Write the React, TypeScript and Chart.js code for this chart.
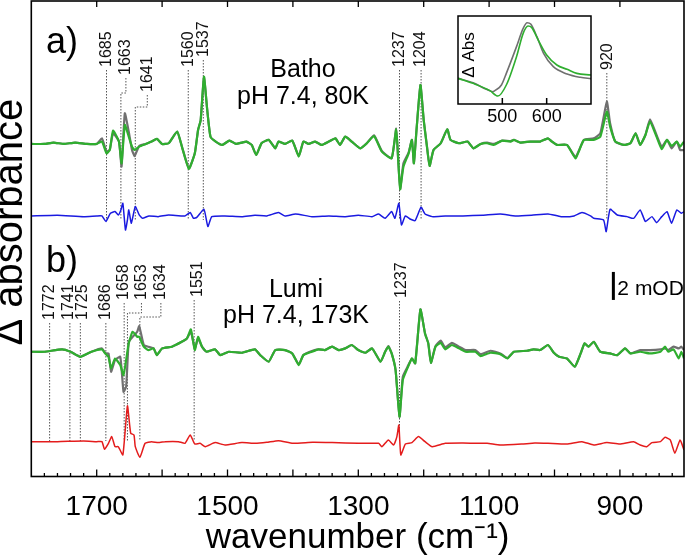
import React, { useEffect, useRef } from 'react';
import { Chart, registerables } from 'chart.js';

Chart.register(...registerables);

const FONT = '"Liberation Sans", Arial, Helvetica, sans-serif';

// ---------- main panel: x axis ----------
const xMin = 802;
const xMax = 1800;
const xTickLabels = [1700, 1500, 1300, 1100, 900];
const xMajorStep = 100;
const xMinorStep = 20;

// ---------- a) Batho, pH 7.4, 80K (mOD, relative to own baseline) ----------
const aWn = [1800, 1780, 1766, 1750, 1733, 1715, 1700, 1692, 1685, 1680, 1675, 1666, 1662, 1657, 1651, 1646, 1642, 1635, 1625, 1616, 1608, 1600, 1590, 1577, 1569, 1559, 1550, 1545, 1541, 1536, 1531, 1526, 1518, 1508, 1497, 1487, 1478, 1471, 1463, 1456, 1448, 1437, 1427, 1422, 1412, 1401, 1391, 1384, 1376, 1366, 1356, 1345, 1335, 1328, 1320, 1310, 1297, 1287, 1276, 1264, 1249, 1242, 1239, 1236, 1231, 1223, 1218, 1215, 1211, 1205, 1200, 1195, 1191, 1185, 1174, 1164, 1159, 1146, 1133, 1124, 1113, 1103, 1093, 1080, 1067, 1062, 1052, 1037, 1022, 1010, 1004, 996, 981, 968, 963, 955, 940, 930, 920, 915, 907, 894, 884, 876, 869, 861, 854, 844, 836, 828, 821, 813, 808, 802];
const aGreen = [0, 0, 0.1, 0, 0.1, 0, 0, 0.17, -0.67, -0.43, 0.95, 0.17, -1.38, 1.36, 0.52, -0.19, -0.43, -0.19, 0, 0.17, 0.36, 0, 0.05, 0.88, -0.31, -1.79, -0.67, 1.0, 1.71, 4.81, 2.43, 0.52, 0.17, -0.07, 0.24, 0, 0.1, 0.17, -0.07, -0.79, 0.05, 0.29, -0.31, 0.17, 0, 0.24, -0.9, 0.17, 0, 0.17, -0.07, 0.17, 0.4, -0.07, 0.52, 0.17, -0.31, 0.05, 0.57, -0.55, -1.02, 1.05, -1.14, -3.24, -1.62, -0.67, 0.29, -1.38, 1.0, 4.21, 1.71, -0.19, -1.57, -0.43, 0.05, 1.05, 0.29, 0.05, 0.17, -0.31, 0, 0.05, -0.07, 0.24, 0.17, 0.29, 0.1, 0.17, 0.17, 0.4, 0.17, -0.07, -0.07, -1.02, -0.55, 0.29, 0.29, 0.52, 2.31, 1.24, 0.17, -0.07, 0.05, 0.76, -0.07, 0.64, 1.6, 0.52, -0.38, 0.29, -0.14, 0.17, -0.19, 0.17];
const aGray = [0, 0, 0.1, 0, 0.1, 0, 0, 0.4, -0.55, -0.4, 0.76, 0.17, -1.62, 2.19, 0.88, -0.43, -0.86, -0.14, 0, 0.17, 0.36, 0, 0.05, 0.88, -0.31, -1.74, -0.67, 1.0, 1.71, 4.76, 2.43, 0.52, 0.17, -0.07, 0.24, 0, 0.1, 0.17, -0.07, -0.79, 0.05, 0.29, -0.31, 0.17, 0, 0.24, -0.86, 0.17, 0, 0.17, -0.07, 0.17, 0.4, -0.07, 0.52, 0.17, -0.31, 0.05, 0.62, -0.5, -1.02, 1.1, -1.14, -3.2, -1.38, -0.6, 0.29, -1.38, 1.0, 4.21, 1.71, -0.19, -1.57, -0.43, 0.05, 1.05, 0.29, 0.05, 0.17, -0.31, 0, 0.1, 0, 0.24, 0.2, 0.29, 0.1, 0.17, 0.17, 0.4, 0.17, -0.07, -0.07, -0.95, -0.5, 0.29, 0.4, 0.76, 3.02, 1.48, 0.17, -0.07, 0.05, 0.76, -0.07, 0.64, 1.76, 0.64, -0.19, 0.29, -0.31, 0.17, -0.43, -0.43];
const aDiffWn = [1800, 1760, 1720, 1700, 1692, 1686, 1679, 1672, 1667, 1663, 1660, 1656, 1653, 1651, 1647, 1641, 1635, 1630, 1620, 1606, 1590, 1565, 1557, 1552, 1547, 1536, 1530, 1524, 1504, 1478, 1458, 1440, 1422, 1412, 1396, 1371, 1345, 1320, 1300, 1279, 1269, 1259, 1249, 1244, 1238, 1234, 1228, 1220, 1213, 1204, 1198, 1187, 1167, 1140, 1110, 1083, 1060, 1035, 1010, 990, 970, 958, 945, 940, 925, 921, 915, 904, 889, 879, 869, 861, 851, 844, 836, 828, 821, 813, 806, 802];
const aDiff = [0, 0.05, -0.05, 0, 0, -0.4, 0.19, 0.31, 0.07, 0.43, 0.9, -1.0, -0.29, 0.43, -0.52, 0.67, 0.07, -0.17, 0, -0.05, 0.07, 0, 0.24, -0.17, -0.1, 0.48, -0.76, -0.05, 0, -0.05, 0.05, 0, 0.24, 0, 0.14, -0.05, 0, -0.05, 0.05, -0.05, 0.14, -0.17, 0.31, -0.17, 0.9, -0.64, 0, -0.24, -0.33, 0.62, 0.14, -0.05, 0, 0, 0.05, 0.14, 0, 0.05, 0.14, -0.05, 0, 0.24, 0, -0.17, -0.29, -1.12, 0.48, 0.07, -0.05, -0.17, 0.43, -0.4, -0.05, -0.48, -0.05, 0.31, -0.52, 0.43, 0.19, 0.31];

// ---------- b) Lumi, pH 7.4, 173K ----------
const bWn = [1800, 1780, 1753, 1740, 1725, 1708, 1692, 1687, 1682, 1678, 1672, 1664, 1659, 1655, 1651, 1645, 1638, 1635, 1628, 1621, 1613, 1608, 1600, 1585, 1570, 1562, 1556, 1550, 1545, 1539, 1532, 1519, 1511, 1498, 1478, 1458, 1450, 1437, 1427, 1412, 1401, 1391, 1384, 1371, 1361, 1351, 1340, 1330, 1320, 1310, 1300, 1289, 1279, 1266, 1259, 1254, 1249, 1243, 1237, 1232, 1225, 1218, 1213, 1205, 1198, 1193, 1189, 1182, 1174, 1167, 1157, 1146, 1136, 1121, 1113, 1098, 1083, 1072, 1062, 1042, 1032, 1022, 1010, 1001, 993, 981, 969, 960, 954, 948, 940, 930, 915, 904, 892, 884, 869, 854, 838, 831, 826, 818, 810, 806, 802];
const bGreen = [0, 0, 0.17, 0, -0.36, 0, 0.17, -0.12, -0.36, -1.19, -0.48, -0.95, -1.67, -0.6, 0.6, 1.43, 1.07, 1.07, 0.36, 0.12, 0.24, -0.24, 0.24, 0.36, 0.71, 0.95, 1.6, 0.12, 1.07, 0.36, 0, 0.17, -0.24, 0, -0.07, 0.17, -0.24, -0.71, 0.12, 0.12, -0.12, -0.95, -0.24, 0, 0.17, 0.12, 0.36, 0.12, 0.24, 0.48, 0.12, -0.07, 0.24, -0.71, 0, 0.36, -0.12, -1.31, -4.64, -2.02, -1.19, -0.48, -0.83, 3.02, 1.31, 0.6, -0.79, 0.36, 0.64, 0.17, 0.48, 0.24, 0, 0, -0.31, -0.07, -0.17, -0.48, 0, 0.07, 0.17, 0.12, 0.48, -0.07, -0.36, -0.48, -1.07, -0.12, 0.6, 0.36, 0.71, 0, -0.12, -0.24, 0.24, -0.12, 0, -0.12, 0, 0.36, 0, 0.17, -0.48, 0, -0.48];
const bGray = [0, 0, 0.17, 0, -0.36, 0, 0.24, -0.1, -0.12, -1.43, -0.6, -0.36, -2.86, -2.5, 0.71, 1.07, 1.43, 1.83, 0.48, 0.36, 0.24, -0.24, 0.24, 0.36, 0.71, 0.95, 1.43, 0.24, 0.95, 0.36, 0, 0.17, -0.24, 0, -0.07, 0.17, -0.24, -0.71, 0.12, 0.12, -0.12, -0.9, -0.24, 0.05, 0.17, 0.12, 0.36, 0.12, 0.24, 0.48, 0.12, -0.07, 0.24, -0.71, 0, 0.4, -0.12, -1.31, -4.64, -1.79, -1.1, -0.48, -0.83, 3.02, 1.31, 0.6, -0.79, 0.4, 0.79, 0.31, 0.64, 0.36, 0.12, 0.12, -0.17, 0.07, -0.12, -0.45, 0, 0.07, 0.17, 0.12, 0.48, -0.07, -0.36, -0.48, -1.07, -0.12, 0.6, 0.36, 0.71, 0, -0.12, -0.24, 0.24, -0.12, 0.12, 0.12, 0.17, 0.24, 0.12, 0.36, 0.24, 0.36, 0.12];
const bDiffWn = [1800, 1760, 1720, 1700, 1692, 1688, 1682, 1677, 1672, 1667, 1660, 1653, 1648, 1643, 1641, 1634, 1626, 1616, 1606, 1595, 1575, 1565, 1557, 1550, 1542, 1534, 1519, 1504, 1478, 1458, 1440, 1422, 1400, 1370, 1340, 1300, 1269, 1264, 1254, 1246, 1241, 1238, 1235, 1228, 1218, 1208, 1198, 1187, 1167, 1140, 1121, 1103, 1083, 1050, 1030, 1010, 981, 958, 940, 920, 900, 879, 869, 859, 851, 838, 831, 823, 816, 808, 802];
const bDiff = [0, 0, 0.05, 0, 0, -0.55, -0.12, 0.36, -0.36, -0.36, -0.95, 2.55, 0.6, 0.48, -0.36, -1.12, -0.12, 0, -0.07, 0, 0, -0.12, 0.48, -0.17, -0.12, -0.36, -0.07, -0.24, -0.07, -0.12, -0.05, 0.07, -0.12, -0.05, -0.07, -0.12, -0.12, -0.36, 0.12, -0.24, 0.36, 1.19, -0.95, -0.17, -0.07, 0.36, 0, -0.36, -0.12, -0.1, -0.12, -0.12, -0.24, -0.17, -0.1, -0.12, -0.17, 0, -0.24, -0.07, -0.17, 0, -0.24, -0.36, -0.07, 0, 0.31, 0.12, -0.83, 0.12, -0.6];

// vertical stacking of the traces (mOD above the axis bottom)
const yMax = 33.96;
const aOffset = 23.75;
const aDiffOffset = 18.61;
const bOffset = 8.91;
const bDiffOffset = 2.49;

// scale bar
const scaleBarValue = 2; // mOD
const scaleBarWn = 910;
const scaleBarBase = 12.61;

// peak labels
const aPeaks = [1685, 1663, 1641, 1560, 1537, 1237, 1204, 920];
const bPeaks = [1772, 1741, 1725, 1686, 1658, 1653, 1634, 1551, 1237];

// ---------- inset: visible spectra ----------
const insetTicks = [500, 600];
const insetGrayWl = [400, 434, 464, 479, 483, 498, 509, 532, 547, 556, 564, 578, 593, 615, 646, 676, 700];
const insetGrayAbs = [0.292, 0.242, 0.167, 0.14, 0.152, 0.216, 0.348, 0.652, 0.86, 0.924, 0.909, 0.765, 0.576, 0.424, 0.341, 0.303, 0.288];
const insetGreenWl = [400, 434, 472, 490, 509, 532, 547, 558, 566, 581, 600, 623, 646, 668, 700];
const insetGreenAbs = [0.292, 0.235, 0.152, 0.091, 0.216, 0.538, 0.803, 0.886, 0.871, 0.727, 0.557, 0.443, 0.394, 0.348, 0.33];

// ---------- styles ----------
const GREEN = '#2fae2f';
const GRAY = '#707070';
const BLUE = '#1a1ae0';
const RED = '#e41c1c';

const aLayout = [
  { dx: 0, b: 67 }, { dx: 5, b: 75, e: 93 }, { dx: 12, b: 92, e: 107 }, { dx: 0, b: 67 },
  { dx: 0, b: 57 }, { dx: 0, b: 67 }, { dx: 0, b: 67 }, { dx: 1, b: 70 },
];
const aLineBottom = 220;
const bLayout = [
  { dx: 0, b: 320 }, { dx: -1, b: 320 }, { dx: 2.5, b: 320 }, { dx: 0, b: 320 }, { dx: -1, b: 300 },
  { dx: 14, b: 300, e: 313 }, { dx: 21, b: 300, e: 317 }, { dx: 3, b: 297 }, { dx: 2, b: 298 },
];
const bLineBottom = 441;

function pts(xs: number[], ys: number[], off: number) {
  return xs.map((x, i) => ({ x, y: ys[i] + off }));
}

function line(label: string, data: any[], color: string, width: number) {
  return {
    label, data, borderColor: color, borderWidth: width, pointRadius: 0,
    fill: false, tension: 0.15, borderJoinStyle: 'round' as const,
  };
}

function drawPeaks(ctx: CanvasRenderingContext2D, x: any, peaks: number[], layout: any[], bottom: number, textOnly: boolean) {
  peaks.forEach((wn, i) => {
    const L = layout[i];
    const px = x.getPixelForValue(wn);
    const lx = px + L.dx;
    if (!textOnly) {
      ctx.beginPath();
      if (L.e !== undefined) {
        ctx.moveTo(lx, L.b + 3);
        ctx.lineTo(lx, L.e);
        ctx.lineTo(px, L.e);
        ctx.lineTo(px, bottom);
      } else {
        ctx.moveTo(px, L.b + 3);
        ctx.lineTo(px, bottom);
      }
      ctx.stroke();
    } else {
      ctx.save();
      ctx.translate(lx, L.b);
      ctx.rotate(-Math.PI / 2);
      ctx.textAlign = 'left';
      ctx.textBaseline = 'middle';
      ctx.fillText(String(wn), 0, 0);
      ctx.restore();
    }
  });
}

const mainPlugin = {
  id: 'mainDecor',
  beforeDatasetsDraw(chart: any) {
    const { ctx, scales: { x } } = chart;
    ctx.save();
    ctx.strokeStyle = '#555';
    ctx.lineWidth = 1;
    ctx.setLineDash([1.5, 1.5]);
    drawPeaks(ctx, x, aPeaks, aLayout, aLineBottom, false);
    drawPeaks(ctx, x, bPeaks, bLayout, bLineBottom, false);
    ctx.restore();
  },
  afterDraw(chart: any) {
    const { ctx, chartArea: ca, scales: { x, y } } = chart;
    ctx.save();
    // frame
    ctx.strokeStyle = '#000';
    ctx.lineWidth = 1.6;
    ctx.strokeRect(ca.left, ca.top, ca.right - ca.left, ca.bottom - ca.top);
    // inward ticks
    ctx.lineWidth = 1.3;
    for (let v = Math.ceil(xMin / xMinorStep) * xMinorStep; v <= xMax; v += xMinorStep) {
      const px = x.getPixelForValue(v);
      if (px <= ca.left + 1 || px >= ca.right - 1) continue;
      const major = v % xMajorStep === 0;
      ctx.beginPath();
      ctx.moveTo(px, ca.bottom);
      ctx.lineTo(px, ca.bottom - (major ? 7 : 3.5));
      if (major) {
        ctx.moveTo(px, ca.top);
        ctx.lineTo(px, ca.top + 6);
      }
      ctx.stroke();
    }
    // peak labels
    ctx.fillStyle = '#111';
    ctx.font = `16px ${FONT}`;
    drawPeaks(ctx, x, aPeaks, aLayout, aLineBottom, true);
    drawPeaks(ctx, x, bPeaks, bLayout, bLineBottom, true);
    // panel texts
    ctx.fillStyle = '#000';
    ctx.textBaseline = 'alphabetic';
    ctx.textAlign = 'left';
    ctx.font = `36px ${FONT}`;
    ctx.fillText('a)', 46, 53);
    ctx.fillText('b)', 46, 272);
    ctx.textAlign = 'center';
    ctx.font = `25px ${FONT}`;
    ctx.fillText('Batho', 303, 77);
    ctx.fillText('pH 7.4, 80K', 303, 104);
    ctx.fillText('Lumi', 296, 297);
    ctx.fillText('pH 7.4, 173K', 296, 323);
    // scale bar
    const bx = x.getPixelForValue(scaleBarWn);
    const y0 = y.getPixelForValue(scaleBarBase);
    const y1 = y.getPixelForValue(scaleBarBase + scaleBarValue);
    ctx.lineWidth = 3;
    ctx.beginPath();
    ctx.moveTo(bx, y0);
    ctx.lineTo(bx, y1);
    ctx.stroke();
    ctx.textAlign = 'left';
    ctx.font = `21px ${FONT}`;
    ctx.fillText(`${scaleBarValue} mOD`, bx + 4, y0 - 5);
    ctx.restore();
  },
};

const insetPlugin = {
  id: 'insetDecor',
  beforeDraw(chart: any) {
    const { ctx, chartArea: ca } = chart;
    ctx.save();
    ctx.fillStyle = '#fff';
    ctx.fillRect(ca.left, ca.top, ca.right - ca.left, ca.bottom - ca.top);
    ctx.restore();
  },
  afterDraw(chart: any) {
    const { ctx, chartArea: ca, scales: { x } } = chart;
    ctx.save();
    ctx.strokeStyle = '#000';
    ctx.lineWidth = 1.5;
    ctx.strokeRect(ca.left, ca.top, ca.right - ca.left, ca.bottom - ca.top);
    insetTicks.forEach((v) => {
      const px = x.getPixelForValue(v);
      ctx.beginPath();
      ctx.moveTo(px, ca.bottom);
      ctx.lineTo(px, ca.bottom - 6);
      ctx.stroke();
    });
    ctx.fillStyle = '#000';
    ctx.font = `17px ${FONT}`;
    ctx.translate(ca.left + 11, ca.top + 39);
    ctx.rotate(-Math.PI / 2);
    ctx.textAlign = 'center';
    ctx.textBaseline = 'middle';
    ctx.fillText('Δ Abs', 0, 0);
    ctx.restore();
  },
};

export default function App() {
  const mainRef = useRef<HTMLCanvasElement>(null);
  const insetRef = useRef<HTMLCanvasElement>(null);

  useEffect(() => {
    document.body.style.margin = '0';
    const main = new Chart(mainRef.current as HTMLCanvasElement, {
      type: 'line',
      data: {
        datasets: [
          line('a) green', pts(aWn, aGreen, aOffset), GREEN, 2.2),
          line('a) gray', pts(aWn, aGray, aOffset), GRAY, 2.2),
          line('a) difference', pts(aDiffWn, aDiff, aDiffOffset), BLUE, 1.5),
          line('b) green', pts(bWn, bGreen, bOffset), GREEN, 2.2),
          line('b) gray', pts(bWn, bGray, bOffset), GRAY, 2.2),
          line('b) difference', pts(bDiffWn, bDiff, bDiffOffset), RED, 1.5),
        ],
      },
      options: {
        responsive: false,
        animation: false,
        devicePixelRatio: 1,
        layout: { padding: { top: 1, right: 2, left: 0, bottom: 0 } },
        plugins: { legend: { display: false }, tooltip: { enabled: false } },
        scales: {
          x: {
            type: 'linear', min: xMin, max: xMax, reverse: true,
            afterBuildTicks: (s: any) => { s.ticks = xTickLabels.map((v) => ({ value: v })); },
            afterFit: (s: any) => { s.height = 81.5; },
            grid: { display: false, drawTicks: false },
            border: { display: false },
            ticks: {
              font: { family: FONT, size: 28 }, color: '#000', padding: 14,
              autoSkip: false, maxRotation: 0, callback: (v: any) => String(v),
            },
            title: {
              display: true, text: 'wavenumber (cm⁻¹)', color: '#000',
              font: { family: FONT, size: 35 }, padding: { top: 0, bottom: -1 },
            },
          },
          y: {
            type: 'linear', min: 0, max: yMax,
            afterFit: (s: any) => { s.width = 31.3; },
            grid: { display: false, drawTicks: false },
            border: { display: false },
            ticks: { display: false },
            title: {
              display: true, text: '   Δ absorbance', color: '#000',
              font: { family: FONT, size: 40, lineHeight: 0.55 }, padding: 0,
            },
          },
        },
      } as any,
      plugins: [mainPlugin],
    });

    const inset = new Chart(insetRef.current as HTMLCanvasElement, {
      type: 'line',
      data: {
        datasets: [
          { ...line('inset green', pts(insetGreenWl, insetGreenAbs, 0), GREEN, 1.6), tension: 0.4, cubicInterpolationMode: 'monotone' },
          { ...line('inset gray', pts(insetGrayWl, insetGrayAbs, 0), GRAY, 1.6), tension: 0.4, cubicInterpolationMode: 'monotone' },
        ],
      },
      options: {
        responsive: false,
        animation: false,
        devicePixelRatio: 1,
        layout: { padding: { left: 18, right: 95, top: 16, bottom: 0 } },
        plugins: { legend: { display: false }, tooltip: { enabled: false } },
        scales: {
          x: {
            type: 'linear', min: 400, max: 700,
            afterBuildTicks: (s: any) => { s.ticks = insetTicks.map((v) => ({ value: v })); },
            afterFit: (s: any) => { s.height = 26; },
            grid: { display: false, drawTicks: false },
            border: { display: false },
            ticks: { font: { family: FONT, size: 18 }, color: '#000', padding: 2, autoSkip: false, maxRotation: 0, callback: (v: any) => String(v) },
          },
          y: { display: false, min: 0, max: 1 },
        },
      } as any,
      plugins: [insetPlugin],
    });

    return () => {
      main.destroy();
      inset.destroy();
    };
  }, []);

  return (
    <div style={{ position: 'relative', width: 686, height: 558, background: '#fff' }}>
      <canvas ref={mainRef} width={686} height={558} style={{ position: 'absolute', left: 0, top: 0, width: 686, height: 558 }} />
      <canvas ref={insetRef} width={246} height={130} style={{ position: 'absolute', left: 440, top: 0, width: 246, height: 130 }} />
    </div>
  );
}
